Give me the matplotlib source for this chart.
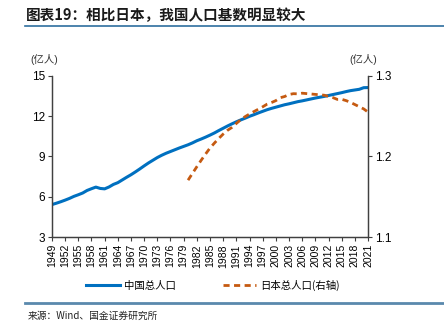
import matplotlib.pyplot as plt
from matplotlib.lines import Line2D

plt.rcParams["font.family"] = ["Liberation Sans", "Noto Sans CJK SC", "DejaVu Sans"]

years = list(range(1949, 2022))
china_pop = [
    5.42, 5.52, 5.63, 5.75, 5.88, 6.03, 6.15, 6.28, 6.47, 6.60,
    6.72, 6.62, 6.59, 6.73, 6.92, 7.05, 7.25, 7.45, 7.64, 7.85,
    8.07, 8.30, 8.52, 8.72, 8.92, 9.09, 9.24, 9.37, 9.50, 9.63,
    9.75, 9.87, 10.01, 10.17, 10.30, 10.44, 10.59, 10.75, 10.93, 11.10,
    11.27, 11.43, 11.58, 11.72, 11.85, 11.99, 12.11, 12.24, 12.36, 12.48,
    12.58, 12.67, 12.76, 12.85, 12.92, 13.00, 13.08, 13.14, 13.21, 13.28,
    13.35, 13.41, 13.47, 13.54, 13.61, 13.68, 13.75, 13.83, 13.90, 13.95,
    14.00, 14.12, 14.13,
]
japan_years = list(range(1980, 2022))
japan_pop = [
    1.1706, 1.1790, 1.1873, 1.1954, 1.2031, 1.2105, 1.2166, 1.2224, 1.2278, 1.2325,
    1.2361, 1.2410, 1.2457, 1.2494, 1.2527, 1.2557, 1.2586, 1.2616, 1.2649, 1.2669,
    1.2693, 1.2729, 1.2744, 1.2769, 1.2779, 1.2777, 1.2785, 1.2780, 1.2775, 1.2770,
    1.2765, 1.2760, 1.2745, 1.2730, 1.2708, 1.2709, 1.2693, 1.2671, 1.2644, 1.2617,
    1.2590, 1.2550,
]
tick_years = list(range(1949, 2022, 3))

blue = "#0070C0"
orange = "#C55A11"
axis_col = "#404040"

fig = plt.figure(figsize=(4.44, 3.27), dpi=100)
ax = fig.add_axes([0.117, 0.275, 0.712, 0.493])
ax2 = ax.twinx()

ax.plot(years, china_pop, color=blue, lw=2.2, solid_capstyle="round")
ax2.plot(japan_years, japan_pop, color=orange, lw=2.0, ls=(0, (2.2, 1.6)))

ax.set_xlim(1949, 2021)
ax.set_ylim(3, 15)
ax.set_yticks([3, 6, 9, 12, 15])
ax2.set_ylim(1.1, 1.3)
ax2.set_yticks([1.1, 1.2, 1.3])
ax2.set_yticklabels(["1.1", "1.2", "1.3"])
ax.set_xticks(tick_years)
ax.set_xticklabels([str(y) for y in tick_years], rotation=90, fontsize=7.5)

for a in (ax, ax2):
    a.spines["top"].set_visible(False)
    for s in ("left", "right", "bottom"):
        a.spines[s].set_color(axis_col)
        a.spines[s].set_linewidth(0.9)
    a.tick_params(axis="y", labelsize=8.5, length=3, width=0.8, color=axis_col, pad=2)
ax.tick_params(axis="x", length=3, width=0.8, color=axis_col, pad=2)

fig.text(0.068, 0.807, "(亿人)", fontsize=7.5, color="#333333")
fig.text(0.787, 0.807, "(亿人)", fontsize=7.5, color="#333333")

# title and rules
fig.text(0.058, 0.955, "图表19：相比日本，我国人口基数明显较大", fontsize=10.5,
         fontweight="bold", style="italic", color="#1a1a1a",
         family=["Noto Sans CJK SC"], va="center")
fig.add_artist(Line2D([0.056, 1.0], [0.922, 0.922], color="#2E6E9E", lw=1.2))
fig.add_artist(Line2D([0.056, 1.0], [0.073, 0.073], color="#5A89AD", lw=2.0))
fig.text(0.062, 0.033, "来源：Wind、国金证券研究所", fontsize=7, color="#222222",
         family=["Noto Sans CJK SC", "DejaVu Sans"], va="center")

handles = [
    Line2D([], [], color=blue, lw=2.2),
    Line2D([], [], color=orange, lw=2.0, ls=(0, (2.2, 1.6))),
]
fig.legend(handles, ["中国总人口", "日本总人口(右轴)"], loc="center",
           bbox_to_anchor=(0.48, 0.128), ncol=2, frameon=False, fontsize=7.5,
           handlelength=3.2, handletextpad=0.4, columnspacing=4.5,
           prop={"family": ["Noto Sans CJK SC", "DejaVu Sans"], "size": 7.5})

fig.savefig("out.png", dpi=100)
